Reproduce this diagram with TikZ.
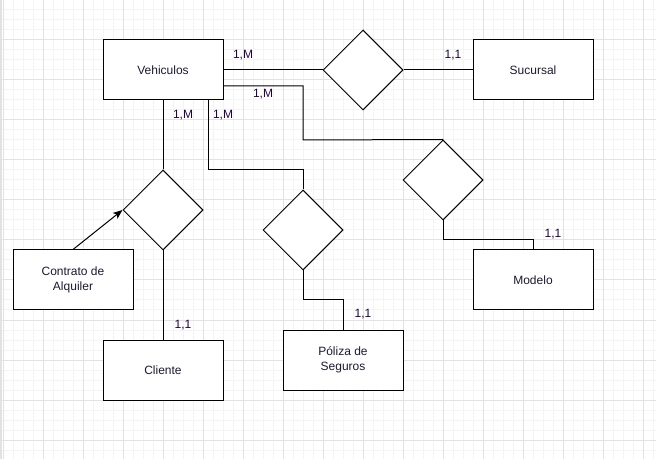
\documentclass[tikz,border=0pt]{standalone}
\usepackage{fontspec}
\setmainfont{Liberation Sans}
\usetikzlibrary{shapes.geometric,arrows.meta}
\definecolor{minorgrid}{HTML}{F4F4F4}
\definecolor{majorgrid}{HTML}{E2E2E2}
\definecolor{txt}{HTML}{1A1A33}
\definecolor{lbl}{HTML}{220044}
\tikzset{
  entity/.style={draw=black, line width=0.75pt, fill=white, minimum width=90pt, minimum height=45pt, inner sep=0pt, align=center, text=txt, font=\fontsize{9pt}{11pt}\selectfont},
  rel/.style={draw=black, line width=0.75pt, fill=white, diamond, minimum width=60pt, minimum height=60pt, inner sep=0pt, aspect=1},
  conn/.style={draw=black, line width=0.75pt},
  card/.style={text=lbl, font=\fontsize{9pt}{11pt}\selectfont, inner sep=0pt},
}
\begin{document}
\begin{tikzpicture}[x=0.75pt,y=-0.75pt]
\useasboundingbox (0,0) rectangle (656,459);
\fill[white] (0,0) rectangle (656,459);
% grid
\foreach \x in {3,13,...,653} \draw[minorgrid, line width=0.75pt] (\x,0) -- (\x,459);
\foreach \y in {0,10,...,459} \draw[minorgrid, line width=0.75pt] (0,\y) -- (656,\y);
\foreach \x in {3,43,...,653} \draw[majorgrid, line width=0.75pt] (\x,0) -- (\x,459);
\foreach \y in {0,40,...,459} \draw[majorgrid, line width=0.75pt] (0,\y) -- (656,\y);
\draw[majorgrid, line width=1.5pt] (1,0) -- (1,459);
% entities
\node[entity] (veh) at (163,70) {Vehiculos};
\node[entity] (suc) at (533,70) {Sucursal};
\node[entity] (mod) at (533,280) {Modelo};
\node[entity] (con) at (73,280) {Contrato de\\Alquiler};
\node[entity] (cli) at (163,370) {Cliente};
\node[entity] (pol) at (343,360) {Póliza de\\Seguros};
% relationships
\node[rel] (r1) at (363,70) {};
\node[rel] (r2) at (443,180) {};
\node[rel] (r3) at (163,210) {};
\node[rel] (r4) at (303,230) {};
% bend coordinates
\coordinate (a1) at (223,86);
\coordinate (a2) at (303,86);
\coordinate (a3) at (303,140);
\coordinate (b1) at (443,240);
\coordinate (b2) at (533,240);
\coordinate (c0) at (208,100);
\coordinate (c1) at (208,170);
\coordinate (c2) at (303,170);
\coordinate (e1) at (303,300);
\coordinate (e2) at (343,300);
% connectors
\draw[conn] (veh.east) -- (r1.west);
\draw[conn] (r1.east) -- (suc.west);
\draw[conn] (a1) -- (a2) -- (a3) -- (r2.north);
\draw[conn] (r2.south) -- (b1) -- (b2) -- (mod.north);
\draw[conn] (veh.south) -- (r3.north);
\draw[conn] (r3.south) -- (cli.north);
\draw[conn] (c0) -- (c1) -- (c2) -- (r4.north);
\draw[conn] (r4.south) -- (e1) -- (e2) -- (pol.north);
\draw[conn, -{Stealth[length=7pt,width=5.5pt,inset=1.5pt]}] (con.north) -- (r3.west);
% cardinalities
\node[card] (l1) at (243,55) {1,M};
\node[card] (l2) at (263,94) {1,M};
\node[card] (l3) at (183,115) {1,M};
\node[card] (l4) at (223,115) {1,M};
\node[card] (l5) at (453,55) {1,1};
\node[card] (l6) at (553,234) {1,1};
\node[card] (l7) at (183,325) {1,1};
\node[card] (l8) at (363,314) {1,1};
\end{tikzpicture}
\end{document}
